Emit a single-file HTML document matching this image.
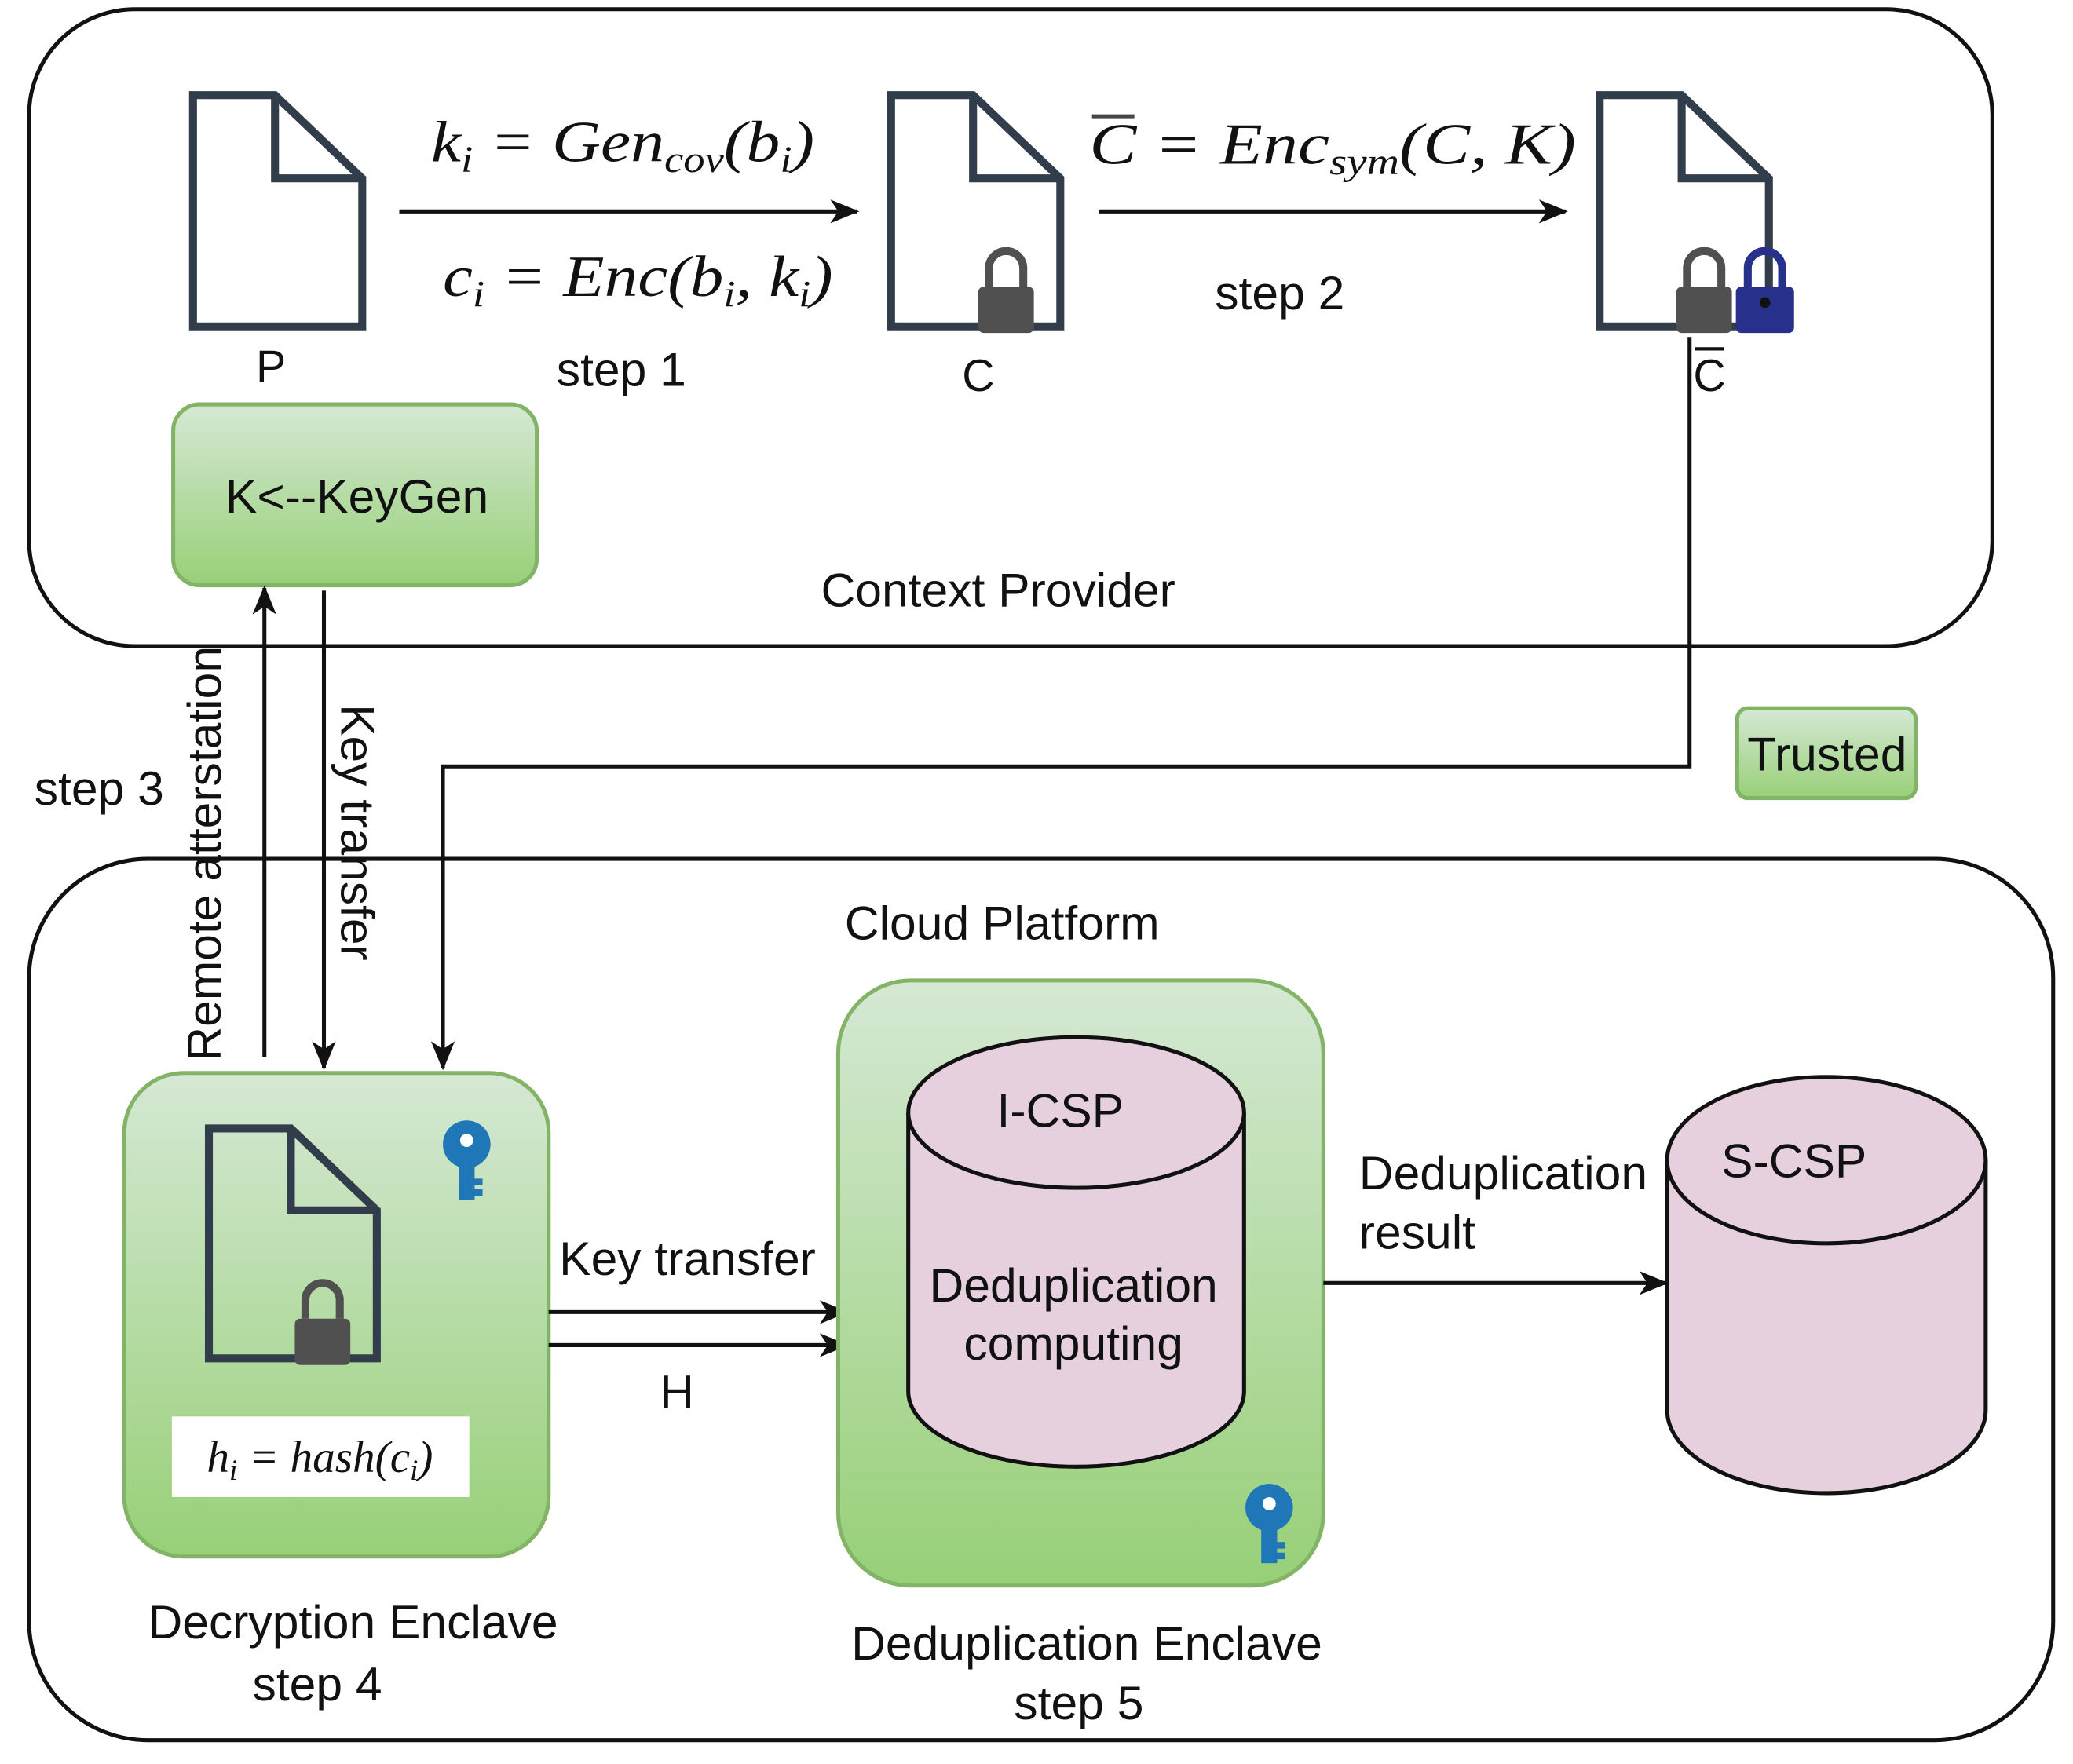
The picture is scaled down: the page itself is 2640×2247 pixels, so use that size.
<!DOCTYPE html>
<html><head><meta charset="utf-8"><style>
html,body{margin:0;padding:0;background:#fff;}
svg{display:block}
text{font-family:"Liberation Sans",sans-serif;fill:#111}
.m{font-family:"Liberation Serif",serif;font-style:italic}
</style></head><body>
<svg width="2640" height="2247" viewBox="0 0 1568 1335" preserveAspectRatio="none" xmlns="http://www.w3.org/2000/svg">
<defs>
<linearGradient id="g" x1="0" y1="0" x2="0" y2="1"><stop offset="0" stop-color="#d5e8d4"/><stop offset="1" stop-color="#97d077"/></linearGradient>
<marker id="b" markerWidth="22" markerHeight="18" refX="20" refY="9" orient="auto" markerUnits="userSpaceOnUse" viewBox="0 0 22 18"><path d="M0,0 L22,9 L0,18 L6,9 z" fill="#111"/></marker>
<g id="lock"><path d="M-13,0 v-14 a13,13 0 0 1 26,0 v14" fill="none" stroke="#505050" stroke-width="6"/><rect x="-21" y="0" width="42" height="35" rx="4" fill="#505050"/></g>
<g id="key" fill="#1f77b8"><circle cx="0" cy="0" r="18"/><rect x="-6" y="10" width="12" height="32"/><rect x="4" y="26" width="8" height="5"/><rect x="4" y="34" width="8" height="5"/><circle cx="0" cy="-3" r="5" fill="#fff"/></g>
</defs>
<rect x="22" y="7" width="1485" height="482" rx="80" fill="none" stroke="#111" stroke-width="3"/>
<rect x="22" y="650" width="1531" height="667" rx="90" fill="none" stroke="#111" stroke-width="3"/>
<path d="M146,72 H208 L274,135 V247 H146 Z M208,72 V135 H274" fill="none" stroke="#323d4b" stroke-width="6"/>
<path d="M674,72 H736 L802,135 V247 H674 Z M736,72 V135 H802" fill="none" stroke="#323d4b" stroke-width="6"/>
<use href="#lock" x="761" y="217"/>
<path d="M1210,72 H1272 L1338,135 V247 H1210 Z M1272,72 V135 H1338" fill="none" stroke="#323d4b" stroke-width="6"/>
<use href="#lock" x="1289" y="217"/>
<g transform="translate(1335,217)"><path d="M-13,0 v-14 a13,13 0 0 1 26,0 v14" fill="none" stroke="#27308a" stroke-width="6"/><rect x="-22" y="0" width="44" height="35" rx="4" fill="#27308a"/><circle cx="0" cy="12" r="4" fill="#111"/></g>
<text x="205" y="289" font-size="34" text-anchor="middle">P</text>
<text x="740" y="296" font-size="34" text-anchor="middle">C</text>
<text x="1293" y="296" font-size="34" text-anchor="middle">C</text>
<line x1="1282" y1="264" x2="1304" y2="264" stroke="#111" stroke-width="2.5"/>
<line x1="302" y1="160" x2="648" y2="160" stroke="#111" stroke-width="3" marker-end="url(#b)"/>
<text x="326" y="122" font-size="44" class="m" textLength="290" lengthAdjust="spacingAndGlyphs">k<tspan font-size="28" dy="8">i</tspan><tspan dy="-8"> = Gen</tspan><tspan font-size="28" dy="8">cov</tspan><tspan dy="-8">(b</tspan><tspan font-size="28" dy="8">i</tspan><tspan dy="-8">)</tspan></text>
<text x="335" y="224" font-size="44" class="m" textLength="295" lengthAdjust="spacingAndGlyphs">c<tspan font-size="28" dy="8">i</tspan><tspan dy="-8"> = Enc(b</tspan><tspan font-size="28" dy="8">i</tspan><tspan dy="-8">, k</tspan><tspan font-size="28" dy="8">i</tspan><tspan dy="-8">)</tspan></text>
<text x="470" y="292" font-size="36" text-anchor="middle">step 1</text>
<line x1="831" y1="160" x2="1184" y2="160" stroke="#111" stroke-width="3" marker-end="url(#b)"/>
<text x="824" y="124" font-size="44" class="m" textLength="368" lengthAdjust="spacingAndGlyphs">C = Enc<tspan font-size="28" dy="8">sym</tspan><tspan dy="-8">(C, K)</tspan></text>
<line x1="826" y1="88" x2="858" y2="88" stroke="#444" stroke-width="3"/>
<text x="968" y="234" font-size="36" text-anchor="middle">step 2</text>
<rect x="131" y="306" width="275" height="137" rx="20" fill="url(#g)" stroke="#82b366" stroke-width="3"/>
<text x="270" y="388" font-size="36" text-anchor="middle">K&lt;--KeyGen</text>
<text x="755" y="459" font-size="36" text-anchor="middle">Context Provider</text>
<polyline points="1278,255 1278,580 335,580 335,808" fill="none" stroke="#111" stroke-width="3" marker-end="url(#b)"/>
<line x1="200" y1="800" x2="200" y2="445" stroke="#111" stroke-width="3" marker-end="url(#b)"/>
<line x1="245" y1="447" x2="245" y2="808" stroke="#111" stroke-width="3" marker-end="url(#b)"/>
<text transform="translate(167,646) rotate(-90)" font-size="36" text-anchor="middle">Remote atterstation</text>
<text transform="translate(258,630) rotate(90)" font-size="36" text-anchor="middle">Key transfer</text>
<text x="75" y="609" font-size="36" text-anchor="middle">step 3</text>
<rect x="1314" y="536" width="135" height="68" rx="8" fill="url(#g)" stroke="#82b366" stroke-width="3"/>
<text x="1382" y="583" font-size="36" text-anchor="middle">Trusted</text>
<text x="758" y="711" font-size="36" text-anchor="middle">Cloud Platform</text>
<rect x="94" y="812" width="321" height="366" rx="45" fill="url(#g)" stroke="#82b366" stroke-width="3"/>
<path d="M158,854 H220 L285,916 V1028 H158 Z M220,854 V916 H285" fill="none" stroke="#323d4b" stroke-width="6"/>
<use href="#lock" x="244" y="998"/>
<use href="#key" x="353" y="866"/>
<rect x="130" y="1072" width="225" height="61" fill="#fff"/>
<text x="242" y="1114" font-size="34" text-anchor="middle" class="m">h<tspan font-size="22" dy="6">i</tspan><tspan dy="-6"> = hash(c</tspan><tspan font-size="22" dy="6">i</tspan><tspan dy="-6">)</tspan></text>
<text x="267" y="1240" font-size="36" text-anchor="middle">Decryption Enclave</text>
<text x="240" y="1287" font-size="36" text-anchor="middle">step 4</text>
<line x1="415" y1="993" x2="640" y2="993" stroke="#111" stroke-width="3" marker-end="url(#b)"/>
<line x1="415" y1="1018" x2="640" y2="1018" stroke="#111" stroke-width="3" marker-end="url(#b)"/>
<text x="520" y="965" font-size="36" text-anchor="middle">Key transfer</text>
<text x="512" y="1066" font-size="36" text-anchor="middle">H</text>
<rect x="634" y="742" width="367" height="458" rx="55" fill="url(#g)" stroke="#82b366" stroke-width="3"/>
<path d="M687,842 V1053 A127,57 0 0 0 941,1053 V842" fill="#e6d0de" stroke="#111" stroke-width="3"/>
<ellipse cx="814" cy="842" rx="127" ry="57" fill="#e6d0de" stroke="#111" stroke-width="3"/>
<text x="802" y="853" font-size="36" text-anchor="middle">I-CSP</text>
<text x="812" y="985" font-size="36" text-anchor="middle">Deduplication</text>
<text x="812" y="1029" font-size="36" text-anchor="middle">computing</text>
<use href="#key" x="960" y="1141"/>
<text x="822" y="1256" font-size="36" text-anchor="middle">Deduplication Enclave</text>
<text x="816" y="1301" font-size="36" text-anchor="middle">step 5</text>
<line x1="1001" y1="971" x2="1260" y2="971" stroke="#111" stroke-width="3" marker-end="url(#b)"/>
<text x="1028" y="900" font-size="36">Deduplication</text>
<text x="1028" y="945" font-size="36">result</text>
<path d="M1261,878 V1067 A120.5,63 0 0 0 1502,1067 V878" fill="#e6d0de" stroke="#111" stroke-width="3"/>
<ellipse cx="1381.5" cy="878" rx="120.5" ry="63" fill="#e6d0de" stroke="#111" stroke-width="3"/>
<text x="1357" y="891" font-size="36" text-anchor="middle">S-CSP</text>
</svg>
</body></html>
